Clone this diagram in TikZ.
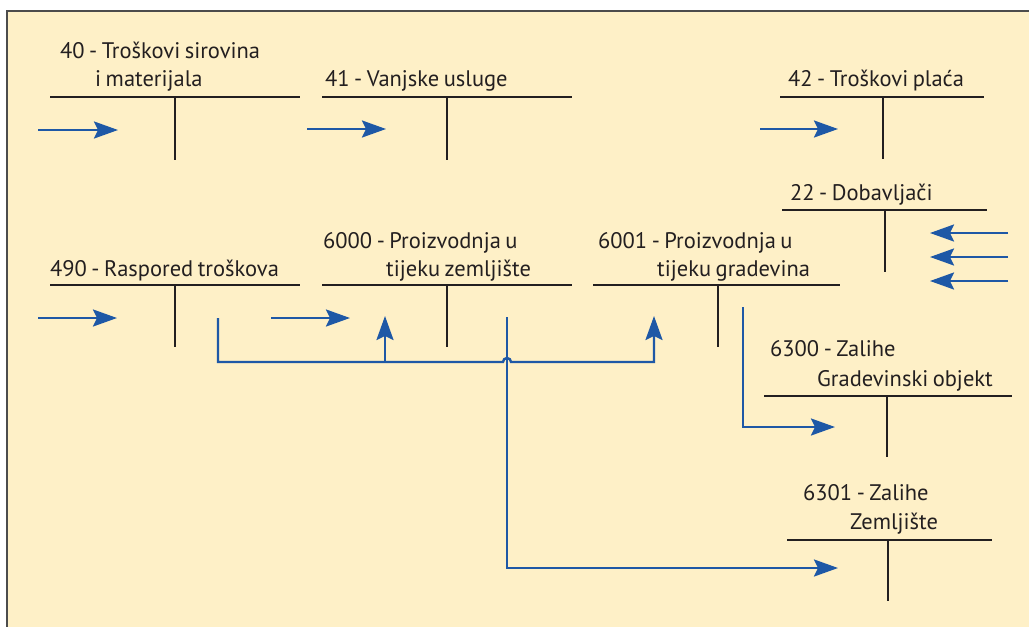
\documentclass[tikz,border=0pt]{standalone}
\usepackage{fontspec}
\setmainfont{PT Sans}[WordSpace=0.75]
\usetikzlibrary{arrows.meta}
\definecolor{paper}{RGB}{254,240,199}
\definecolor{flow}{RGB}{30,88,166}
\definecolor{ink}{RGB}{35,31,32}

\begin{document}
\begin{tikzpicture}[x=1pt,y=-1pt]
      \tikzstyle{acct}=[line width=2.6pt,draw=ink]
      \tikzstyle{lbl}=[anchor=base west,inner sep=0pt,text=ink,font=\fontsize{22.5}{26}\selectfont]
      \tikzstyle{flowline}=[line width=2.4pt,draw=flow,line join=miter,-{Stealth[length=24pt,width=17pt,inset=4pt]}]

      % paper
      \useasboundingbox (0,0) rectangle (1029,627);
      \fill[white] (0,0) rectangle (1029,627);
      \fill[paper] (7,11) rectangle (1029,627);
      \draw[line width=2pt,draw=black!70] (7,627) -- (7,11) -- (1029,11);

      % upper row
      \node[lbl](l40) at (60,58){40 - Troškovi sirovina};
      \node[lbl](l40b) at (95,86){i materijala};
      \draw[acct] (50,97) -- (300,97) (175,97) -- (175,160);

      \node[lbl](l41) at (325,86){41 - Vanjske usluge};
      \draw[acct] (322,97) -- (572,97) (447,97) -- (447,160);

      \node[lbl](l42) at (788,86){42 - Troškovi plaća};
      \draw[acct] (780,97) -- (984,97) (883,97) -- (883,159);

      \node[lbl](l22) at (790,200){22 - Dobavljači};
      \draw[acct] (782,210) -- (987,210) (885,210) -- (885,272);

      % middle row
      \node[lbl](l490) at (50,276){490 - Raspored troškova};
      \draw[acct] (50,285) -- (300,285) (175,285) -- (175,347);

      \node[lbl](l6000) at (323,248){6000 - Proizvodnja u};
      \node[lbl](l6000b) at (386,276){tijeku zemljište};
      \draw[acct] (322,285) -- (572,285) (447,285) -- (447,347);

      \node[lbl](l6001) at (598,248){6001 - Proizvodnja u};
      \node[lbl](l6001b) at (657,276){tijeku gradevina};
      \draw[acct] (593,285) -- (840,285) (718,285) -- (718,347);

      % lower right
      \node[lbl](l6300) at (770,356){6300 - Zalihe};
      \node[lbl](l6300b) at (817,386){Gradevinski objekt};
      \draw[acct] (764,396) -- (1012,396) (887,396) -- (887,457);

      \node[lbl](l6301) at (803,500){6301 - Zalihe};
      \node[lbl](l6301b) at (850,529){Zemljište};
      \draw[acct] (787,540) -- (992,540) (888,540) -- (888,601);

      % flows
      \coordinate (in40) at (38,130);   \coordinate (to40) at (118,130);
      \coordinate (in41) at (307,129);  \coordinate (to41) at (386,129);
      \coordinate (in42) at (760,129);  \coordinate (to42) at (838,129);
      \coordinate (in490) at (38,318);  \coordinate (to490) at (117,318);
      \coordinate (in6000) at (271,318); \coordinate (to6000) at (350,318);
      \coordinate (d1) at (1008,233);   \coordinate (e1) at (930,233);
      \coordinate (d2) at (1008,257);   \coordinate (e2) at (930,257);
      \coordinate (d3) at (1008,281);   \coordinate (e3) at (930,281);

      \coordinate (out490) at (218,318);
      \coordinate (bus) at (218,362);
      \coordinate (up6000) at (385,316);
      \coordinate (up6001) at (654,316);
      \coordinate (out6000) at (507,317);
      \coordinate (to6301) at (838,568);
      \coordinate (out6001) at (743,307);
      \coordinate (to6300) at (835,427);

      \path
      (in40) edge[flowline] (to40)
      (in41) edge[flowline] (to41)
      (in42) edge[flowline] (to42)
      (in490) edge[flowline] (to490)
      (in6000) edge[flowline] (to6000)
      (d1) edge[flowline] (e1)
      (d2) edge[flowline] (e2)
      (d3) edge[flowline] (e3);

      \draw[flowline] (out490) -- (bus) -- (503,362)
        arc[start angle=180,end angle=360,radius=4] -- (up6001 |- bus) -- (up6001);
      \draw[flowline] (up6000 |- bus) -- (up6000);
      \draw[flowline] (out6000) -- (out6000 |- to6301) -- (to6301);
      \draw[flowline] (out6001) -- (out6001 |- to6300) -- (to6300);
    \end{tikzpicture}
\end{document}
